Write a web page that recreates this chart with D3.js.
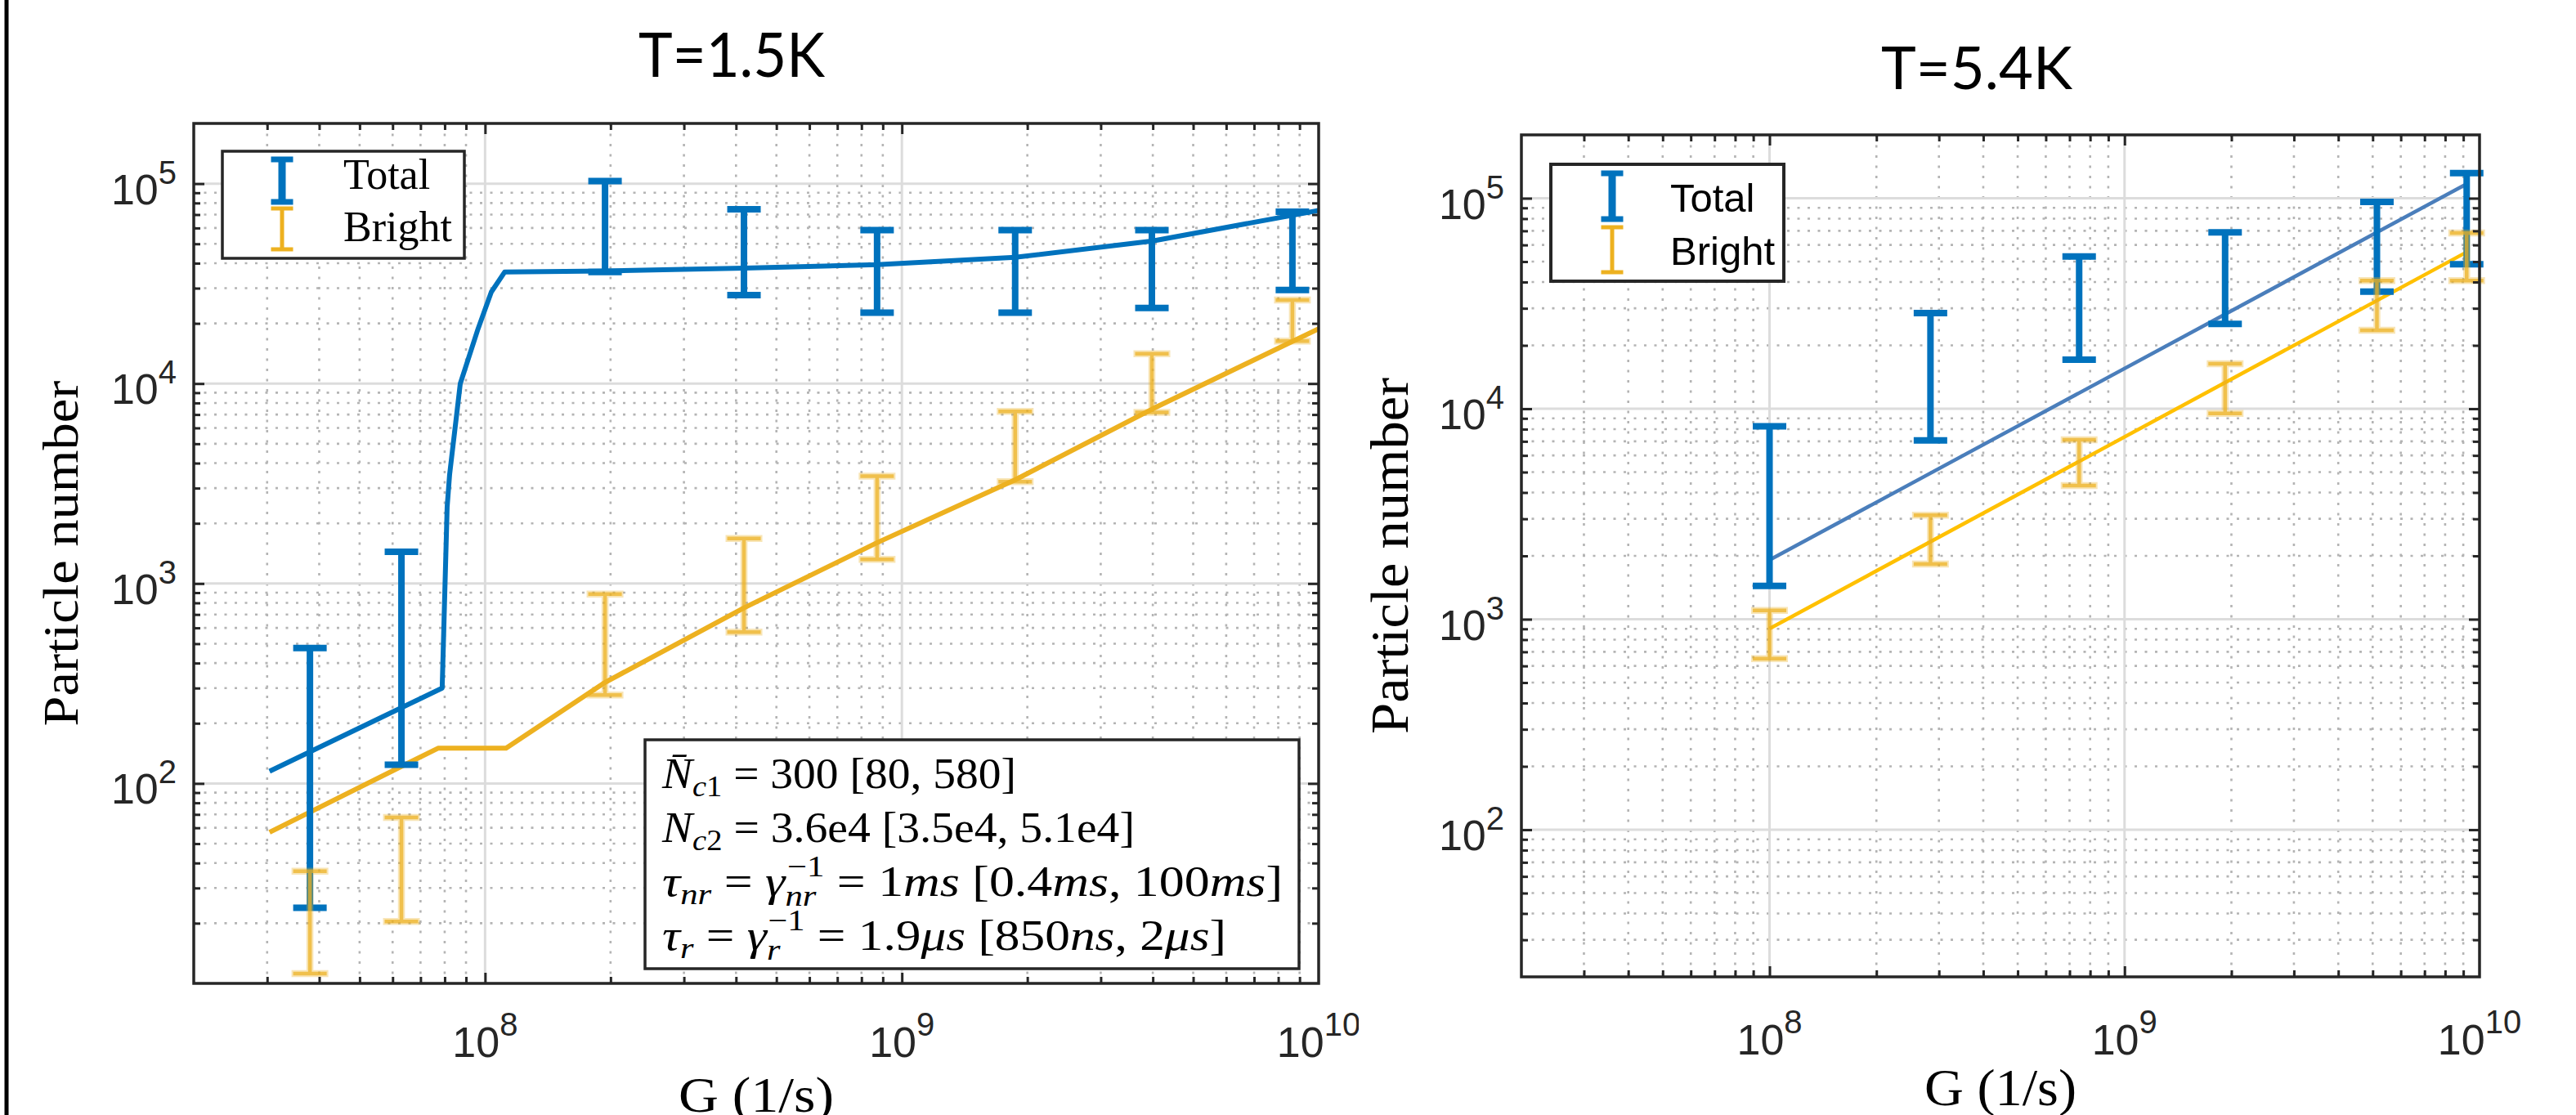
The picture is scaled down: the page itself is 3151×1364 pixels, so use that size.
<!DOCTYPE html>
<html>
<head>
<meta charset="utf-8">
<script src="https://cdn.jsdelivr.net/npm/d3@7"></script>
<style>
  html, body { margin: 0; padding: 0; background: #fff; }
  svg { display: block; }
</style>
</head>
<body>
<div id="chart"></div>
<script>
// values (G in 1/s, particle numbers)

// T=1.5K panel
const gLeft = [3.8e7, 6.3e7, 1.94e8, 4.18e8, 8.72e8, 1.87e9, 3.98e9, 8.65e9]
const totalLowLeft = [23.9, 124, 3.61e4, 2.77e4, 2.26e4, 2.26e4, 2.39e4, 2.94e4]
const totalHighLeft = [476, 1440, 1.03e5, 7.45e4, 5.86e4, 5.86e4, 5.86e4, 7.23e4]
const brightLowLeft = [11.2, 20.4, 277, 572, 1320, 3230, 7170, 1.63e4]
const brightHighLeft = [36.4, 67.6, 886, 1680, 3440, 7260, 1.41e4, 2.62e4]

const fitTotalLeftG = [3.04e7, 7.89e7, 8.11e7, 8.22e7, 8.72e7, 9.62e7, 1.035e8, 1.114e8, 1.94e8, 4.18e8, 8.72e8, 1.87e9, 4.0e9, 1e10]
const fitTotalLeftN = [115, 300, 2420, 3500, 1e4, 1.88e4, 2.87e4, 3.61e4, 3.66e4, 3.78e4, 3.93e4, 4.28e4, 5.17e4, 7.35e4]
const fitBrightLeftG = [3.04e7, 7.71e7, 1.123e8, 1.94e8, 4.18e8, 8.72e8, 1.87e9, 4.0e9, 1e10]
const fitBrightLeftN = [57, 150, 150, 320, 755, 1600, 3300, 7480, 1.88e4]

// T=5.4K panel
const gRight = [1e8, 2.84e8, 7.45e8, 1.92e9, 5.14e9, 9.2e9]
const totalLowRight = [1440, 7070, 1.71e4, 2.53e4, 3.6e4, 4.86e4]
const totalHighRight = [8260, 2.85e4, 5.29e4, 6.88e4, 9.61e4, 1.317e5]
const brightLowRight = [650, 1830, 4320, 9500, 2.36e4, 4.06e4]
const brightHighRight = [1100, 3120, 7120, 1.635e4, 4.06e4, 6.84e4]

const fitTotalRightG = [1e8, 9.2e9]
const fitTotalRightN = [1912, 1.17e5]
const fitBrightRightG = [1e8, 9.2e9]
const fitBrightRightN = [902, 5.55e4]

// axes
const xDomain = [2e7, 1e10]
const yDomainLeft = [10, 2e5]
const yDomainRight = [20, 2e5]
const xTickExps = [8, 9, 10]
const yTickExpsLeft = [2, 3, 4, 5]
const yTickExpsRight = [2, 3, 4, 5]

const W = 3151, H = 1364
const serif = '"Liberation Serif", "Times New Roman", serif'
const sans = '"Liberation Sans", Arial, sans-serif'
const titleFont = 'Lato, "Open Sans", sans-serif'
const axisColor = '#262626'
const blue = '#0072BD', yellow = '#EDB120'

const svg = d3.select('#chart').append('svg').attr('width', W).attr('height', H)
svg.append('rect').attr('width', W).attr('height', H).attr('fill', '#fff')

// black edge on the far left of the figure
svg.append('line').attr('x1', 8).attr('x2', 8).attr('y1', 0).attr('y2', H)
  .attr('stroke', '#000').attr('stroke-width', 5)

const isPow10 = v => Math.abs(Math.log10(v) - Math.round(Math.log10(v))) < 1e-9

function powLabel(t, exp, supSize, rise) {
  t.append('tspan').text('10')
  t.append('tspan').text(exp).attr('font-size', supSize).attr('dy', -rise)
}

function errorBars(g, x, y, gs, lo, hi, st) {
  const data = gs.map((v, i) => ({ g: v, lo: lo[i], hi: hi[i] }))
  const eb = g.append('g').attr('opacity', st.opacity)
  const layers = st.halo ? [[st.halo, 0.4], [0, 1]] : [[0, 1]]
  layers.forEach(([extra, op]) => {
    const l = eb.append('g').attr('stroke', st.color).attr('opacity', op)
    l.selectAll('line.v').data(data).join('line').attr('class', 'v')
      .attr('x1', d => x(d.g)).attr('x2', d => x(d.g))
      .attr('y1', d => y(d.lo)).attr('y2', d => y(d.hi))
      .attr('stroke-width', st.width + extra)
    ;['lo', 'hi'].forEach(k => {
      l.selectAll('line.' + k).data(data).join('line').attr('class', k)
        .attr('x1', d => x(d.g) - st.cap / 2 - extra / 2).attr('x2', d => x(d.g) + st.cap / 2 + extra / 2)
        .attr('y1', d => y(d[k])).attr('y2', d => y(d[k]))
        .attr('stroke-width', st.capWidth + extra)
    })
  })
}

function legendIcon(g, cx, y1, y2, st) {
  const l = g.append('g').attr('stroke', st.color)
  l.append('line').attr('x1', cx).attr('x2', cx).attr('y1', y1).attr('y2', y2).attr('stroke-width', st.width)
  ;[y1, y2].forEach(yy => l.append('line').attr('x1', cx - 13.5).attr('x2', cx + 13.5)
    .attr('y1', yy).attr('y2', yy).attr('stroke-width', st.capWidth))
}

const totalStyle = { color: blue, width: 8, cap: 41, capWidth: 8, opacity: 1 }
const brightStyle = { color: yellow, width: 4.5, cap: 41, capWidth: 4.5, halo: 4, opacity: 0.8 }

function drawPanel(p) {
  const g = svg.append('g')
  const x = d3.scaleLog().domain(xDomain).range([p.left, p.right])
  const y = d3.scaleLog().domain(p.yDomain).range([p.bottom, p.top])

  const xIn = x.ticks().filter(v => v > xDomain[0] * 1.0001 && v < xDomain[1] * 0.9999)
  const yIn = y.ticks().filter(v => v > p.yDomain[0] * 1.0001 && v < p.yDomain[1] * 0.9999)
  const xMajor = xIn.filter(isPow10), xMinor = xIn.filter(v => !isPow10(v))
  const yMajor = yIn.filter(isPow10), yMinor = yIn.filter(v => !isPow10(v))

  // minor grid (dotted)
  const mg = g.append('g').attr('stroke', '#b4b4b4').attr('stroke-width', 2.6).attr('stroke-dasharray', '3 9.5')
  mg.selectAll('line.x').data(xMinor).join('line').attr('class', 'x')
    .attr('x1', d => x(d)).attr('x2', d => x(d)).attr('y1', p.top).attr('y2', p.bottom)
  mg.selectAll('line.y').data(yMinor).join('line').attr('class', 'y')
    .attr('x1', p.left).attr('x2', p.right).attr('y1', d => y(d)).attr('y2', d => y(d))

  // major grid
  const Mg = g.append('g').attr('stroke', '#dcdcdc').attr('stroke-width', 3)
  Mg.selectAll('line.x').data(xMajor).join('line').attr('class', 'x')
    .attr('x1', d => x(d)).attr('x2', d => x(d)).attr('y1', p.top).attr('y2', p.bottom)
  Mg.selectAll('line.y').data(yMajor).join('line').attr('class', 'y')
    .attr('x1', p.left).attr('x2', p.right).attr('y1', d => y(d)).attr('y2', d => y(d))

  // model curves
  const line = d3.line().x(d => x(d[0])).y(d => y(d[1]))
  const clipId = 'clip' + p.id
  g.append('clipPath').attr('id', clipId).append('rect')
    .attr('x', p.left).attr('y', p.top).attr('width', p.right - p.left).attr('height', p.bottom - p.top)
  const curves = g.append('g').attr('clip-path', `url(#${clipId})`).attr('fill', 'none')
    .attr('stroke-linejoin', 'round')
  p.curves.forEach(c => {
    curves.append('path').datum(d3.zip(c.g, c.n)).attr('d', line)
      .attr('stroke', c.color).attr('stroke-width', c.width)
  })

  // error bars
  errorBars(g, x, y, p.gs, p.totalLow, p.totalHigh, totalStyle)
  errorBars(g, x, y, p.gs, p.brightLow, p.brightHigh, brightStyle)

  // ticks on all four sides, pointing inward
  const sides = [
    [d3.axisBottom, x, xMajor, xMinor, `translate(0,${p.bottom})`],
    [d3.axisTop, x, xMajor, xMinor, `translate(0,${p.top})`],
    [d3.axisLeft, y, yMajor, yMinor, `translate(${p.left},0)`],
    [d3.axisRight, y, yMajor, yMinor, `translate(${p.right},0)`],
  ]
  sides.forEach(([ax, sc, maj, min, tr]) => {
    ;[[maj, 13], [min, 8]].forEach(([vals, len]) => {
      const a = g.append('g').attr('transform', tr)
        .call(ax(sc).tickValues(vals).tickSize(-len).tickSizeOuter(0).tickFormat(''))
      a.select('.domain').remove()
      a.selectAll('line').attr('stroke', axisColor).attr('stroke-width', 3)
    })
  })

  // box
  g.append('rect').attr('x', p.left).attr('y', p.top)
    .attr('width', p.right - p.left).attr('height', p.bottom - p.top)
    .attr('fill', 'none').attr('stroke', axisColor).attr('stroke-width', 3.5)

  // tick labels
  g.append('g').selectAll('text').data(xTickExps).join('text')
    .attr('x', d => x(Math.pow(10, d))).attr('y', p.xLabelBase)
    .attr('text-anchor', 'middle').attr('font-family', sans).attr('font-size', 52).attr('fill', axisColor)
    .each(function (d) { powLabel(d3.select(this), d, 40, 26) })
  g.append('g').selectAll('text').data(p.yExps).join('text')
    .attr('x', p.left - 21).attr('y', d => y(Math.pow(10, d)) + 25)
    .attr('text-anchor', 'end').attr('font-family', sans).attr('font-size', 52).attr('fill', axisColor)
    .each(function (d) { powLabel(d3.select(this), d, 40, 25) })

  // axis labels
  g.append('text').attr('x', (p.left + p.right) / 2).attr('y', p.xTitleY)
    .attr('text-anchor', 'middle').attr('font-family', serif).attr('font-size', p.xTitleSize)
    .attr('textLength', p.xTitleLen).attr('lengthAdjust', 'spacingAndGlyphs')
    .text('G (1/s)')
  g.append('text')
    .attr('transform', `translate(${p.yTitleX},${(p.top + p.bottom) / 2}) rotate(-90)`)
    .attr('text-anchor', 'middle').attr('font-family', serif).attr('font-size', p.yTitleSize)
    .attr('textLength', p.yTitleLen).attr('lengthAdjust', 'spacingAndGlyphs')
    .text('Particle number')

  // title
  g.append('text').attr('x', p.titleX).attr('y', p.titleY).attr('text-anchor', 'middle')
    .attr('font-family', titleFont).attr('font-size', p.titleSize)
    .attr('textLength', p.titleLen).attr('lengthAdjust', 'spacingAndGlyphs')
    .text(p.title)

  // legend
  const lg = p.legend
  const leg = g.append('g')
  leg.append('rect').attr('x', lg.x).attr('y', lg.y).attr('width', lg.w).attr('height', lg.h)
    .attr('fill', '#fff').attr('stroke', axisColor).attr('stroke-width', lg.stroke)
  legendIcon(leg, lg.iconX, lg.total[0], lg.total[1], { color: blue, width: 9, capWidth: 7 })
  legendIcon(leg, lg.iconX, lg.bright[0], lg.bright[1], { color: yellow, width: 5, capWidth: 5 })
  leg.append('text').attr('x', lg.textX).attr('y', lg.base[0]).attr('font-family', lg.font)
    .attr('font-size', lg.size).text('Total')
  leg.append('text').attr('x', lg.textX).attr('y', lg.base[1]).attr('font-family', lg.font)
    .attr('font-size', lg.size).text('Bright')

  return g
}

// ---- left panel: T=1.5K
const left = drawPanel({
  id: 'L', left: 237, right: 1613, top: 151, bottom: 1203, yDomain: yDomainLeft, yExps: yTickExpsLeft,
  gs: gLeft, totalLow: totalLowLeft, totalHigh: totalHighLeft, brightLow: brightLowLeft, brightHigh: brightHighLeft,
  curves: [
    { g: fitTotalLeftG, n: fitTotalLeftN, color: blue, width: 6 },
    { g: fitBrightLeftG, n: fitBrightLeftN, color: yellow, width: 6 },
  ],
  xLabelBase: 1293, xTitleY: 1360, xTitleSize: 62, xTitleLen: 190,
  yTitleX: 95, yTitleSize: 62, yTitleLen: 423,
  title: 'T=1.5K', titleX: 895, titleY: 94, titleSize: 75, titleLen: 228,
  legend: { x: 272, y: 185, w: 296, h: 131, stroke: 3.5, iconX: 345, total: [195, 247], bright: [255, 305],
    textX: 420, base: [231, 295], font: serif, size: 52 },
})

// parameter box
const ann = left.append('g')
ann.append('rect').attr('x', 789).attr('y', 905).attr('width', 800).attr('height', 280)
  .attr('fill', '#fff').attr('stroke', axisColor).attr('stroke-width', 3.5)

function mathLine(x, y, parts, len) {
  const t = ann.append('text').attr('x', x).attr('y', y)
    .attr('font-family', serif).attr('font-size', 52).attr('fill', '#000')
    .attr('textLength', len).attr('lengthAdjust', 'spacingAndGlyphs')
  parts.forEach(p => {
    const s = t.append('tspan').text(p[0])
    if (p[1]) s.attr('font-style', 'italic')
    if (p[2]) s.attr('font-size', p[2])
    if (p[3]) s.attr('dy', p[3])
    if (p[4]) s.attr('dx', p[4])
  })
}
mathLine(810, 964, [['N\u0304', 1], ['c', 1, 36, 10], ['1', 0, 36], [' = 300 [80, 580]', 0, null, -10]], 433)
mathLine(810, 1030, [['N', 1], ['c', 1, 36, 10], ['2', 0, 36], [' = 3.6e4 [3.5e4, 5.1e4]', 0, null, -10]], 578)
mathLine(810, 1096, [['\u03C4', 1], ['nr', 1, 36, 10], [' = ', 0, null, -10], ['\u03B3', 1], ['nr', 1, 36, 12],
  ['\u22121', 0, 36, -36, -30], [' = 1', 0, null, 24], ['ms', 1], [' [0.4', 0], ['ms', 1], [', 100', 0], ['ms', 1], [']', 0]], 759)
mathLine(810, 1162, [['\u03C4', 1], ['r', 1, 36, 10], [' = ', 0, null, -10], ['\u03B3', 1], ['r', 1, 36, 12],
  ['\u22121', 0, 36, -36, -13], [' = 1.9', 0, null, 24], ['\u03BCs', 1], [' [850', 0], ['ns', 1], [', 2', 0], ['\u03BCs', 1], [']', 0]], 690)

// the right figure sits on top of the left one
svg.append('rect').attr('x', 1662).attr('y', 0).attr('width', W - 1662).attr('height', H).attr('fill', '#fff')

// ---- right panel: T=5.4K
drawPanel({
  id: 'R', left: 1861, right: 3033, top: 165, bottom: 1195, yDomain: yDomainRight, yExps: yTickExpsRight,
  gs: gRight, totalLow: totalLowRight, totalHigh: totalHighRight, brightLow: brightLowRight, brightHigh: brightHighRight,
  curves: [
    { g: fitTotalRightG, n: fitTotalRightN, color: '#4A7EBB', width: 4.5 },
    { g: fitBrightRightG, n: fitBrightRightN, color: '#FFC000', width: 4.5 },
  ],
  xLabelBase: 1290, xTitleY: 1352, xTitleSize: 64, xTitleLen: 186,
  yTitleX: 1722, yTitleSize: 66, yTitleLen: 436,
  title: 'T=5.4K', titleX: 2418, titleY: 109, titleSize: 71, titleLen: 234,
  legend: { x: 1897, y: 201, w: 285, h: 143, stroke: 4, iconX: 1972, total: [212, 268], bright: [278, 333],
    textX: 2043, base: [259, 324], font: sans, size: 49 },
})
</script>
</body>
</html>
